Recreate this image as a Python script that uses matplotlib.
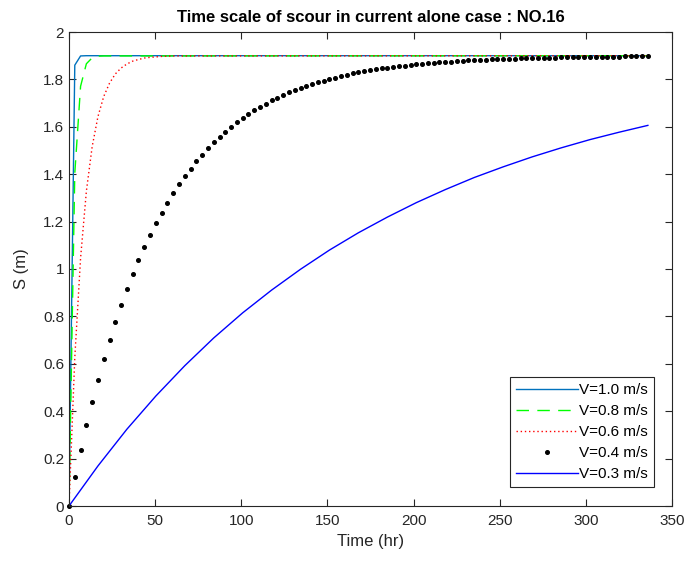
import numpy as np
import matplotlib
matplotlib.use("Agg")
from matplotlib import pyplot as plt
from matplotlib.ticker import FormatStrFormatter

# scour depth S (m) versus time (hr), one curve per current speed
# sampled every 3.36 hr (101 samples over 336 hr = 2 weeks)
time_hr = np.linspace(0, 336, 101)

labels = ["V=1.0 m/s", "V=0.8 m/s", "V=0.6 m/s", "V=0.4 m/s", "V=0.3 m/s"]

# fast cases reach equilibrium early, so only the first samples + the last one
t_v10 = list(time_hr[:4]) + [336]
s_v10 = [0, 1.860, 1.899, 1.900, 1.900]

t_v08 = list(time_hr[:7]) + [336]
s_v08 = [0, 1.404, 1.771, 1.866, 1.891, 1.898, 1.899, 1.900]

t_v06 = list(time_hr[:19]) + [336]
s_v06 = [0, 0.626, 1.046, 1.328, 1.516, 1.643, 1.728, 1.784, 1.823, 1.848,
         1.865, 1.877, 1.884, 1.890, 1.893, 1.895, 1.897, 1.898, 1.899, 1.900]

t_v04 = time_hr
s_v04 = [0, 0.121, 0.235, 0.341, 0.440, 0.533, 0.620, 0.702, 0.778, 0.850,
         0.917, 0.980, 1.038, 1.093, 1.145, 1.193, 1.238, 1.280, 1.320, 1.357,
         1.391, 1.424, 1.454, 1.482, 1.509, 1.534, 1.557, 1.579, 1.600, 1.619,
         1.637, 1.654, 1.669, 1.684, 1.698, 1.711, 1.723, 1.734, 1.745, 1.755,
         1.764, 1.772, 1.781, 1.788, 1.795, 1.802, 1.808, 1.814, 1.820, 1.825,
         1.830, 1.834, 1.838, 1.842, 1.846, 1.849, 1.853, 1.856, 1.858, 1.861,
         1.864, 1.866, 1.868, 1.870, 1.872, 1.874, 1.875, 1.877, 1.878, 1.880,
         1.881, 1.882, 1.883, 1.885, 1.886, 1.886, 1.887, 1.888, 1.889, 1.890,
         1.890, 1.891, 1.891, 1.892, 1.892, 1.893, 1.893, 1.894, 1.894, 1.895,
         1.895, 1.895, 1.896, 1.896, 1.896, 1.896, 1.897, 1.897, 1.897, 1.897,
         1.897]

# slow case, every 5th sample is enough for a smooth line
t_v03 = time_hr[::5]
s_v03 = [0, 0.169, 0.324, 0.464, 0.592, 0.709, 0.815, 0.911, 0.999, 1.080,
         1.153, 1.219, 1.280, 1.335, 1.386, 1.431, 1.473, 1.511, 1.546, 1.577,
         1.606]

plt.rcParams['font.family'] = ['Liberation Sans', 'DejaVu Sans']
axis_grey = "#262626"

fig = plt.figure(figsize=(6.86, 5.66), dpi=100)
ax = fig.add_axes([69 / 686, 1 - 506 / 566, 603 / 686, 474 / 566])

ax.plot(t_v10, s_v10, color="#0072BD", lw=1.0, label=labels[0])
ax.plot(t_v08, s_v08, color="#00FF00", lw=1.0, ls=(0, (9, 6)), label=labels[1])
ax.plot(t_v06, s_v06, color="#FF0000", lw=1.0, ls=(0, (1, 2)), label=labels[2])
ax.plot(t_v04, s_v04, ls="none", marker="o", ms=2.6, color="black",
        clip_on=False, label=labels[3])
ax.plot(t_v03, s_v03, color="#0000FF", lw=1.0, label=labels[4])

ax.set_xlim(0, 350)
ax.set_ylim(0, 2)
ax.set_xticks(np.arange(0, 351, 50))
ax.set_yticks(np.arange(0, 2.01, 0.2))
ax.yaxis.set_major_formatter(FormatStrFormatter("%g"))

ax.tick_params(direction="in", top=True, right=True, length=5, width=0.8,
               colors=axis_grey, labelsize=11, labelcolor=axis_grey)
ax.tick_params(axis="x", pad=6)
for sp in ax.spines.values():
    sp.set_color(axis_grey)
    sp.set_linewidth(0.8)

ax.set_xlabel("Time (hr)", fontsize=12, color=axis_grey, labelpad=4)
ax.set_ylabel("S (m)", fontsize=12, color=axis_grey, labelpad=10)
ax.set_title("Time scale of scour in current alone case : NO.16",
             fontsize=12, fontweight="bold", color="black", pad=7)

leg = ax.legend(loc="lower right", bbox_to_anchor=(0.97, 0.04), fontsize=11,
                fancybox=False, framealpha=1, edgecolor=axis_grey,
                handlelength=4.0, handletextpad=0.1, borderpad=0.4,
                labelspacing=0.45, borderaxespad=0)
leg.get_frame().set_linewidth(0.8)

plt.savefig("out.png", dpi=100)
